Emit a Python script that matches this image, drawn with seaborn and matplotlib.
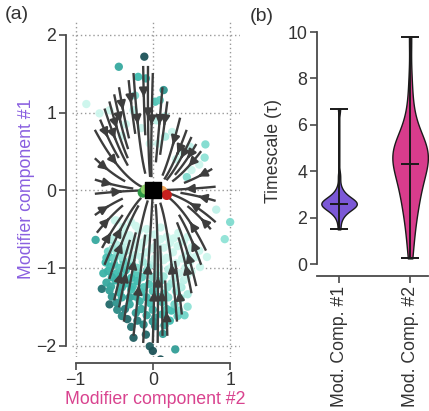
import numpy as np
import pandas as pd
import matplotlib
matplotlib.use('Agg')
import matplotlib.pyplot as plt
from matplotlib.colors import LinearSegmentedColormap
from matplotlib.path import Path
import seaborn as sns

# ---- panel (a): points in modifier space (x, y, shade 0=light .. 1=dark)
top_x = [-0.11, -0.44, -0.19, -0.09, 0.14, -0.86, -0.23, 0.03, 0.09, -0.25, 0.16, 0.05, 0.16, 0.07, 0.37,
         0.48, 0.68, 0.67, 0.44, 0.50, 0.60, -0.04, -0.56, -0.69, -0.35, -0.15, 0.25, 0.30, -0.40,
         1.00, 0.93, 0.82, -0.74, -0.49]
top_y = [1.72, 1.59, 1.46, 1.44, 1.29, 1.11, 1.22, 1.14, 1.16, 1.03, 0.95, 0.90, 0.69, 0.60, 0.49,
         0.56, 0.59, 0.42, 0.17, 0.26, 0.33, 0.60, 1.03, 0.99, 0.85, 0.80, 0.75, 0.40, 0.70,
         -0.41, -0.63, -0.25, -0.64, -0.39]
top_s = [1.0, 0.6, 0.5, 0.55, 0.7, 0.03, 0.3, 0.45, 0.4, 0.1, 0.15, 0.1, 0.15, 0.05, 0.03,
         0.08, 0.3, 0.25, 0.3, 0.03, 0.03, 0.03, 0.03, 0.03, 0.03, 0.05, 0.05, 0.03, 0.03,
         0.3, 0.25, 0.08, 0.6, 0.03]

edge_x = [-0.66, -0.56, -0.33, -0.25, -0.09, -0.04, 0.00, 0.10, 0.03, 0.13, 0.29, 0.41, 0.24, 0.37,
          0.03, -0.36, -0.40, -0.53, -0.64, -0.56, -0.52, -0.40, -0.28, -0.47, 0.61, 0.70, 0.52]
edge_y = [-1.27, -1.47, -1.66, -1.90, -1.86, -2.01, -2.07, -2.18, -1.75, -1.85, -2.05, -1.61, -1.55, -1.25,
          -1.64, -1.53, -1.38, -1.37, -1.07, -0.86, -0.64, -0.52, -0.41, -0.39, -0.99, -0.86, -0.73]
edge_s = [0.85, 0.9, 0.9, 0.95, 0.9, 0.95, 1.0, 1.0, 0.8, 0.65, 0.65, 0.35, 0.5, 0.15,
          0.6, 0.8, 0.6, 0.7, 0.55, 0.5, 0.25, 0.03, 0.03, 0.03, 0.03, 0.03, 0.03]

blob_x = [-0.42, -0.30, -0.18, 0.02, 0.18, 0.33,
          -0.47, -0.36, -0.24, -0.12, 0.05, 0.22, 0.40,
          -0.58, -0.46, -0.34, -0.22, -0.08, 0.08, 0.26, 0.45, 0.60,
          -0.61, -0.50, -0.38, -0.27, -0.13, 0.00, 0.14, 0.30, 0.48,
          -0.58, -0.47, -0.35, -0.22, -0.08, 0.06, 0.20, 0.34, 0.50,
          -0.60, -0.48, -0.33, -0.20, -0.05, 0.10, 0.24, 0.40,
          -0.56, -0.43, -0.28, -0.15, 0.00, 0.15, 0.30, 0.45,
          -0.47, -0.30, -0.17, -0.03, 0.12, 0.28, 0.45,
          -0.40, -0.22, -0.08, 0.12, 0.32,
          -0.28, -0.12, 0.15]
blob_y = [-0.55, -0.58, -0.52, -0.57, -0.60, -0.55,
          -0.70, -0.66, -0.71, -0.67, -0.70, -0.68, -0.66,
          -0.79, -0.82, -0.78, -0.83, -0.80, -0.84, -0.80, -0.83, -0.78,
          -0.93, -0.95, -0.91, -0.96, -0.92, -0.95, -0.90, -0.94, -0.92,
          -1.04, -1.07, -1.03, -1.08, -1.04, -1.06, -1.02, -1.07, -1.05,
          -1.19, -1.16, -1.20, -1.17, -1.21, -1.17, -1.20, -1.16,
          -1.29, -1.32, -1.28, -1.31, -1.30, -1.33, -1.30, -1.34,
          -1.45, -1.47, -1.43, -1.46, -1.44, -1.47, -1.50,
          -1.62, -1.58, -1.61, -1.60, -1.62,
          -1.76, -1.73, -1.74]
blob_s = [0.03, 0.03, 0.03, 0.03, 0.03, 0.03,
          0.12, 0.05, 0.03, 0.03, 0.03, 0.03, 0.03,
          0.35, 0.25, 0.15, 0.08, 0.05, 0.03, 0.03, 0.03, 0.03,
          0.5, 0.45, 0.4, 0.3, 0.2, 0.1, 0.05, 0.03, 0.03,
          0.55, 0.5, 0.5, 0.45, 0.35, 0.25, 0.1, 0.05, 0.03,
          0.6, 0.55, 0.5, 0.5, 0.45, 0.35, 0.2, 0.08,
          0.65, 0.55, 0.5, 0.5, 0.45, 0.4, 0.25, 0.15,
          0.7, 0.6, 0.55, 0.5, 0.45, 0.35, 0.25,
          0.75, 0.65, 0.6, 0.5, 0.4,
          0.85, 0.75, 0.6]

fill_x = [-0.38, -0.22, -0.08, 0.10,
          -0.52, -0.40, -0.25, -0.08, 0.10, 0.27, 0.45,
          -0.52, -0.40, -0.30, -0.17, -0.02, 0.14, 0.32, 0.50,
          -0.60, -0.50, -0.40, -0.28, -0.15, 0.02, 0.18, 0.38, 0.55,
          -0.55, -0.43, -0.32, -0.20, -0.06, 0.08, 0.25, 0.42,
          -0.53, -0.42, -0.28, -0.14, 0.00, 0.14, 0.28, 0.44,
          -0.54, -0.40, -0.26, -0.12, 0.04, 0.19, 0.34,
          -0.30, -0.22, -0.08, 0.06, 0.20, 0.36,
          -0.46, -0.15, 0.00, 0.18, 0.34,
          -0.20, 0.00, 0.22]
fill_y = [-0.47, -0.46, -0.50, -0.48,
          -0.62, -0.60, -0.63, -0.61, -0.63, -0.62, -0.60,
          -0.75, -0.73, -0.75, -0.74, -0.75, -0.74, -0.72, -0.74,
          -0.87, -0.88, -0.86, -0.88, -0.86, -0.88, -0.87, -0.88, -0.86,
          -0.99, -1.00, -0.98, -1.00, -0.99, -1.00, -0.98, -1.00,
          -1.12, -1.11, -1.13, -1.12, -1.12, -1.11, -1.13, -1.12,
          -1.24, -1.25, -1.24, -1.25, -1.24, -1.25, -1.24,
          -1.38, -1.37, -1.38, -1.37, -1.38, -1.39,
          -1.54, -1.53, -1.54, -1.53, -1.55,
          -1.68, -1.69, -1.68]
fill_s = [0.03, 0.03, 0.03, 0.03,
          0.1, 0.03, 0.03, 0.03, 0.03, 0.03, 0.03,
          0.2, 0.1, 0.05, 0.03, 0.03, 0.03, 0.03, 0.03,
          0.45, 0.35, 0.25, 0.15, 0.08, 0.03, 0.03, 0.03, 0.03,
          0.5, 0.45, 0.4, 0.3, 0.2, 0.1, 0.03, 0.03,
          0.55, 0.5, 0.5, 0.4, 0.3, 0.2, 0.1, 0.03,
          0.6, 0.55, 0.5, 0.45, 0.4, 0.25, 0.1,
          0.65, 0.6, 0.55, 0.45, 0.3, 0.2,
          0.75, 0.6, 0.55, 0.45, 0.3,
          0.8, 0.7, 0.5]

# fixed points near the origin
fp_x = [-0.13, -0.09, 0.12, 0.18]
fp_y = [-0.03, 0.01, -0.01, -0.06]
fp_colors = ['#2f9a46', '#8fd16a', '#f2a65a', '#c8201e']

# flow field (linear model read from the streamlines) and region where flow is drawn
flow_a = [[-1.0, -0.05], [0.0, -1.7]]
flow_region = [(-0.75, 0.85), (-0.55, 1.25), (-0.3, 1.5), (-0.1, 1.72), (0.1, 1.45), (0.3, 1.05),
               (0.55, 0.72), (0.75, 0.38), (0.88, 0.0), (0.85, -0.35), (0.7, -0.85), (0.55, -1.35),
               (0.4, -1.65), (0.22, -1.9), (0.0, -2.05), (-0.25, -1.95), (-0.45, -1.62), (-0.6, -1.2),
               (-0.7, -0.7), (-0.78, -0.3), (-0.8, 0.2), (-0.8, 0.6)]

# ---- panel (b): timescales
comp_labels = ['Mod. Comp. #1', 'Mod. Comp. #2']
tau_1 = [1.5, 1.9, 2.1, 2.2, 2.3, 2.35, 2.4, 2.45, 2.5, 2.5, 2.55, 2.55, 2.6, 2.6, 2.6, 2.6,
         2.65, 2.65, 2.7, 2.7, 2.75, 2.8, 2.85, 2.9, 3.0, 3.1, 3.3, 3.8, 6.7]
tau_2 = [0.25, 0.9, 1.4, 1.8, 2.1, 2.4, 2.6, 2.8, 3.0, 3.2, 3.4, 3.5, 3.7, 3.8, 4.0, 4.1, 4.2,
         4.3, 4.3, 4.5, 4.6, 4.7, 4.8, 4.8, 4.9, 5.0, 5.0, 5.1, 5.2, 5.3, 5.5, 5.7, 6.0, 6.4,
         7.0, 8.0, 9.8]
comp_colors = ['#7b58d6', '#d83c8c']

sns.set_style('ticks')
plt.rcParams['font.family'] = ['Liberation Sans', 'DejaVu Sans']
plt.rcParams['font.size'] = 12.8

fig = plt.figure(figsize=(4.29, 4.11), dpi=100)
ax = fig.add_axes([0.167, 0.131, 0.392, 0.818])
ax2 = fig.add_axes([0.739, 0.328, 0.259, 0.611])

spine_c = '#4a4a4a'
text_c = '#333333'

# panel (a)
teal = LinearSegmentedColormap.from_list('teal', ['#d4f8f0', '#8fe3d6', '#3fbdb0', '#2a8a86', '#1c5257'])
pts = pd.DataFrame({'x': top_x + edge_x + blob_x + fill_x, 'y': top_y + edge_y + blob_y + fill_y,
                    's': top_s + edge_s + blob_s + fill_s})
ax.scatter(pts['x'], pts['y'], c=teal(pts['s'].values), s=36, linewidths=0, alpha=0.95, zorder=2)

gx = np.linspace(-1.0, 1.0, 81)
gy = np.linspace(-2.15, 2.15, 173)
X, Y = np.meshgrid(gx, gy)
U = flow_a[0][0] * X + flow_a[0][1] * Y
V = flow_a[1][0] * X + flow_a[1][1] * Y
inside = Path(flow_region).contains_points(np.column_stack([X.ravel(), Y.ravel()])).reshape(X.shape)
U = np.ma.array(U, mask=~inside)
V = np.ma.array(V, mask=~inside)
ax.streamplot(gx, gy, U, V, density=(1.1, 1.6), color='#3d3d3d', linewidth=1.7, arrowsize=1.25,
              minlength=0.15, zorder=3)

for xx, yy, cc in zip(fp_x, fp_y, fp_colors):
    ax.scatter([xx], [yy], s=55, color=cc, edgecolor='none', zorder=4)
ax.scatter([0], [0], marker='s', s=120, color='black', zorder=5)

ax.set_xlim(-1.05, 1.125)
ax.set_ylim(-2.15, 2.18)
ax.set_xticks([-1, 0, 1])
ax.set_yticks([-2, -1, 0, 1, 2])
ax.grid(True, linestyle=(0, (1, 2)), color='#999999', linewidth=1)
for s in ['top', 'right']:
    ax.spines[s].set_visible(False)
ax.spines['left'].set_bounds(-2, 2)
ax.spines['bottom'].set_bounds(-1, 1)
ax.spines['left'].set_position(('outward', 4))
ax.spines['bottom'].set_position(('outward', 4))
ax.set_xlabel('Modifier component #2', color='#d9438f', labelpad=1)
ax.set_ylabel('Modifier component #1', color='#8a60e0', labelpad=1)

# panel (b)
df = pd.DataFrame({'comp': [comp_labels[0]] * len(tau_1) + [comp_labels[1]] * len(tau_2),
                   'tau': tau_1 + tau_2})
for lab, col, bw in zip(comp_labels, comp_colors, [0.5, 0.8]):
    sns.violinplot(data=df[df['comp'] == lab], x='comp', y='tau', order=comp_labels, color=col,
                   cut=0, inner=None, density_norm='width', width=0.5, bw_adjust=bw,
                   linewidth=1, linecolor='#1a1a1a', saturation=1, ax=ax2)
for i, vals in enumerate([tau_1, tau_2]):
    ax2.vlines(i, min(vals), max(vals), color='#1a1a1a', lw=1.4, zorder=4)
    ax2.hlines([min(vals), max(vals), np.median(vals)], i - 0.125, i + 0.125, color='#1a1a1a',
               lw=1.4, zorder=4)

ax2.set_xlim(-0.31, 1.254)
ax2.set_ylim(-0.517, 10.3)
ax2.set_yticks([0, 2, 4, 6, 8, 10])
ax2.set_xlabel('')
ax2.set_ylabel('Timescale (τ)', labelpad=4)
ax2.tick_params(axis='x', labelrotation=90)
for s in ['top', 'right']:
    ax2.spines[s].set_visible(False)
ax2.spines['left'].set_bounds(0, 10)

for a in (ax, ax2):
    a.tick_params(direction='out', length=5, width=1.2, color=spine_c, labelcolor=text_c, pad=2)
    for s in ['left', 'bottom']:
        a.spines[s].set_color(spine_c)
        a.spines[s].set_linewidth(1.3)
ax2.yaxis.label.set_color(text_c)

fig.text(0.012, 0.985, '(a)', fontsize=14, va='top', color=text_c)
fig.text(0.583, 0.98, '(b)', fontsize=14, va='top', color=text_c)

fig.savefig('out.png', dpi=100)
